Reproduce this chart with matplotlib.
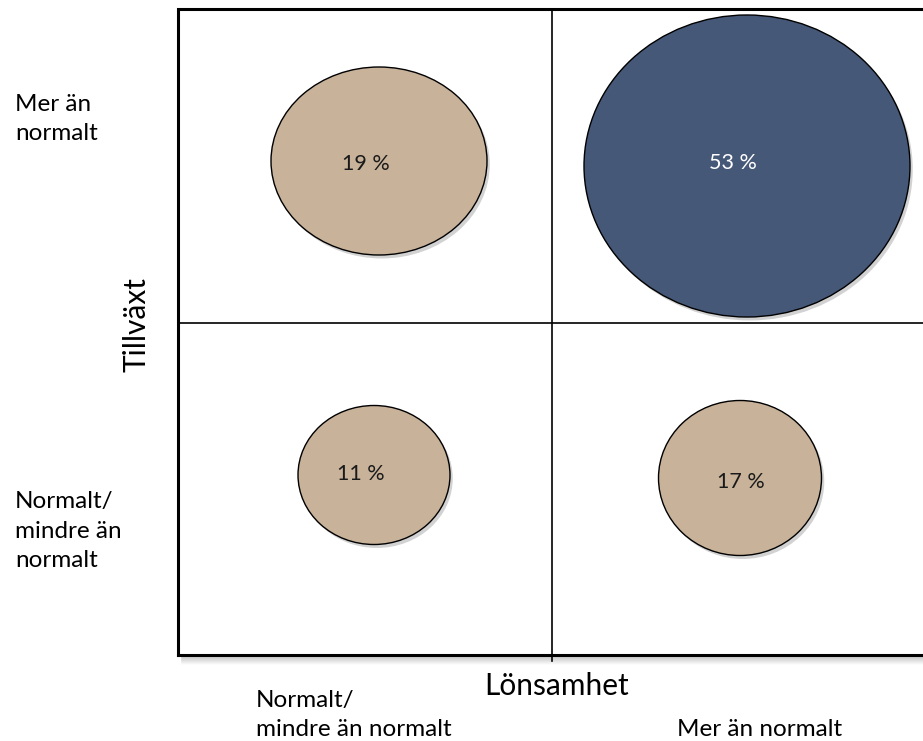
import matplotlib.pyplot as plt
from matplotlib.patches import Ellipse
import matplotlib.patheffects as pe

plt.rcParams['font.family'] = ['Lato', 'DejaVu Sans']

# --- DATA ---
shares = [19, 53, 11, 17]
share_labels = ['19 %', '53 %', '11 %', '17 %']
is_highlight = [False, True, False, False]
x_title = 'Lönsamhet'
y_title = 'Tillväxt'
x_ticks = ['Normalt/\nmindre än normalt', 'Mer än normalt']
y_ticks = ['Mer än\nnormalt', 'Normalt/\nmindre än\nnormalt']

# --- LAYOUT (pixel units of the 923x741 canvas) ---
W, H = 923, 741
box_l, box_r, box_t, box_b = 178, 926, 9, 655
mid_x, mid_y = 552, 323

# ellipse centres / sizes for each quadrant
centres = [(379, 161), (747, 166), (374, 475), (740, 478)]
sizes = [(216, 188), (326, 302), (152, 139), (163, 155)]
text_pos = [(366, 164), (733, 163), (361, 474), (741, 482)]

tan = '#C8B29A'
navy = '#465878'

fig = plt.figure(figsize=(W / 100, H / 100), dpi=100)
ax = fig.add_axes([0, 0, 1, 1])
ax.set_xlim(0, W)
ax.set_ylim(H, 0)
ax.axis('off')

# drop shadow under the box
for i in range(8):
    ax.plot([box_l + 4, box_r], [box_b + 1.5 + i, box_b + 1.5 + i],
            color='black', alpha=0.13 * (1 - i / 8), lw=1.2, zorder=1)

# outer box and quadrant dividers
ax.plot([box_l, box_l, box_r, box_r, box_l], [box_b, box_t, box_t, box_b, box_b],
        color='black', lw=2.2, zorder=3, solid_joinstyle='miter')
ax.plot([mid_x, mid_x], [box_t, box_b + 6], color='black', lw=1.2, zorder=3)
ax.plot([box_l, box_r], [mid_y, mid_y], color='black', lw=1.2, zorder=3)

# bubbles
shadow = [pe.SimplePatchShadow(offset=(2, -2.5), alpha=0.35, shadow_rgbFace='gray'), pe.Normal()]
for (cx, cy), (w, h), hi in zip(centres, sizes, is_highlight):
    e = Ellipse((cx, cy), w, h, facecolor=navy if hi else tan,
                edgecolor='black', lw=1.0, zorder=4)
    e.set_path_effects(shadow)
    ax.add_patch(e)

for (tx, ty), lab, hi in zip(text_pos, share_labels, is_highlight):
    ax.text(tx, ty, lab, ha='center', va='center', fontsize=15.5,
            color='white' if hi else '#1a1a1a', zorder=5)

# axis titles
ax.text(137, 325, y_title, rotation=90, ha='center', va='center', fontsize=21.5)
ax.text(557, 686, x_title, ha='center', va='center', fontsize=21.5)

# row / column labels
ax.text(15, 119, y_ticks[0], ha='left', va='center', fontsize=17.5, linespacing=1.5)
ax.text(15, 531, y_ticks[1], ha='left', va='center', fontsize=17.5, linespacing=1.5)
ax.text(256, 715, x_ticks[0], ha='left', va='center', fontsize=17.5, linespacing=1.5)
ax.text(677, 729, x_ticks[1], ha='left', va='center', fontsize=17.5)

fig.savefig('out.png', dpi=100)
